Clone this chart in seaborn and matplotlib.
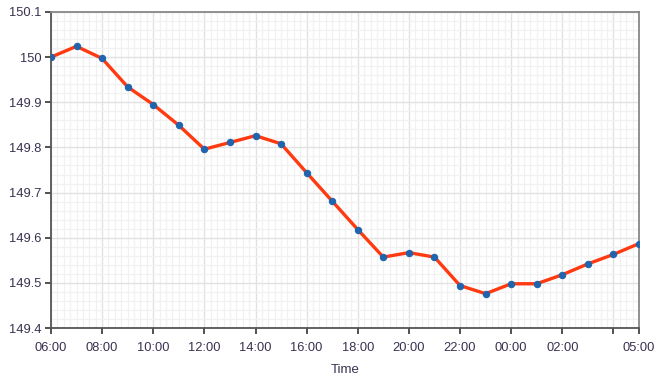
import numpy as np
import pandas as pd
import matplotlib
matplotlib.use("Agg")
import matplotlib.pyplot as plt
from matplotlib.ticker import MultipleLocator, FuncFormatter
import seaborn as sns

# hourly readings, 06:00 -> 05:00 next day
times = ["06:00", "07:00", "08:00", "09:00", "10:00", "11:00", "12:00", "13:00",
         "14:00", "15:00", "16:00", "17:00", "18:00", "19:00", "20:00", "21:00",
         "22:00", "23:00", "00:00", "01:00", "02:00", "03:00", "04:00", "05:00"]
values = [150.000, 150.024, 149.997, 149.934, 149.895, 149.849, 149.796, 149.811,
          149.826, 149.808, 149.744, 149.681, 149.618, 149.557, 149.567, 149.557,
          149.494, 149.476, 149.498, 149.498, 149.518, 149.542, 149.563, 149.587]
tick_labels = ["06:00", "08:00", "10:00", "12:00", "14:00", "16:00", "18:00",
               "20:00", "22:00", "00:00", "02:00", "", "05:00"]

df = pd.DataFrame({"t": np.arange(len(times)), "value": values})

sns.set_theme(style="white")
plt.rcParams["font.family"] = ["Liberation Sans", "DejaVu Sans"]

fig = plt.figure(figsize=(6.68, 3.83), dpi=100)
ax = fig.add_axes([0.0763, 0.1436, 0.8803, 0.8251])

sns.lineplot(data=df, x="t", y="value", ax=ax, color="#ff3a10", lw=2.4,
             marker="o", markersize=4.6, markerfacecolor="#1f64ad",
             markeredgecolor="#1f64ad", zorder=3)

ax.set_xlim(0, len(times) - 1)
ax.set_ylim(149.4, 150.1)
tick_pos = list(range(0, 24, 2)) + [23]
ax.set_xticks(tick_pos)
ax.set_xticklabels(tick_labels)
ax.xaxis.set_minor_locator(MultipleLocator(0.25))
ax.yaxis.set_major_locator(MultipleLocator(0.1))
ax.yaxis.set_minor_locator(MultipleLocator(0.02))
ax.yaxis.set_major_formatter(FuncFormatter(lambda v, p: f"{v:.1f}".rstrip("0").rstrip(".")))

ax.grid(which="major", color="#e2e2e2", lw=1.0)
ax.grid(which="minor", color="#f1f1f1", lw=0.9)
ax.set_axisbelow(True)

ax.tick_params(which="major", direction="out", length=4, width=1.2,
               color="#333333", labelsize=9.3, labelcolor="#3a3050",
               bottom=True, left=True, pad=3)
ax.tick_params(axis="x", which="major", pad=6)
ax.tick_params(which="minor", length=0)

for side in ["left", "bottom"]:
    ax.spines[side].set_color("#555555")
    ax.spines[side].set_linewidth(1.3)
for side in ["top", "right"]:
    ax.spines[side].set_color("#888888")
    ax.spines[side].set_linewidth(1.3)

ax.set_xlabel("Time", fontsize=9.5, color="#3a3050", labelpad=7)
ax.set_ylabel("")

fig.savefig("out.png", dpi=100)
